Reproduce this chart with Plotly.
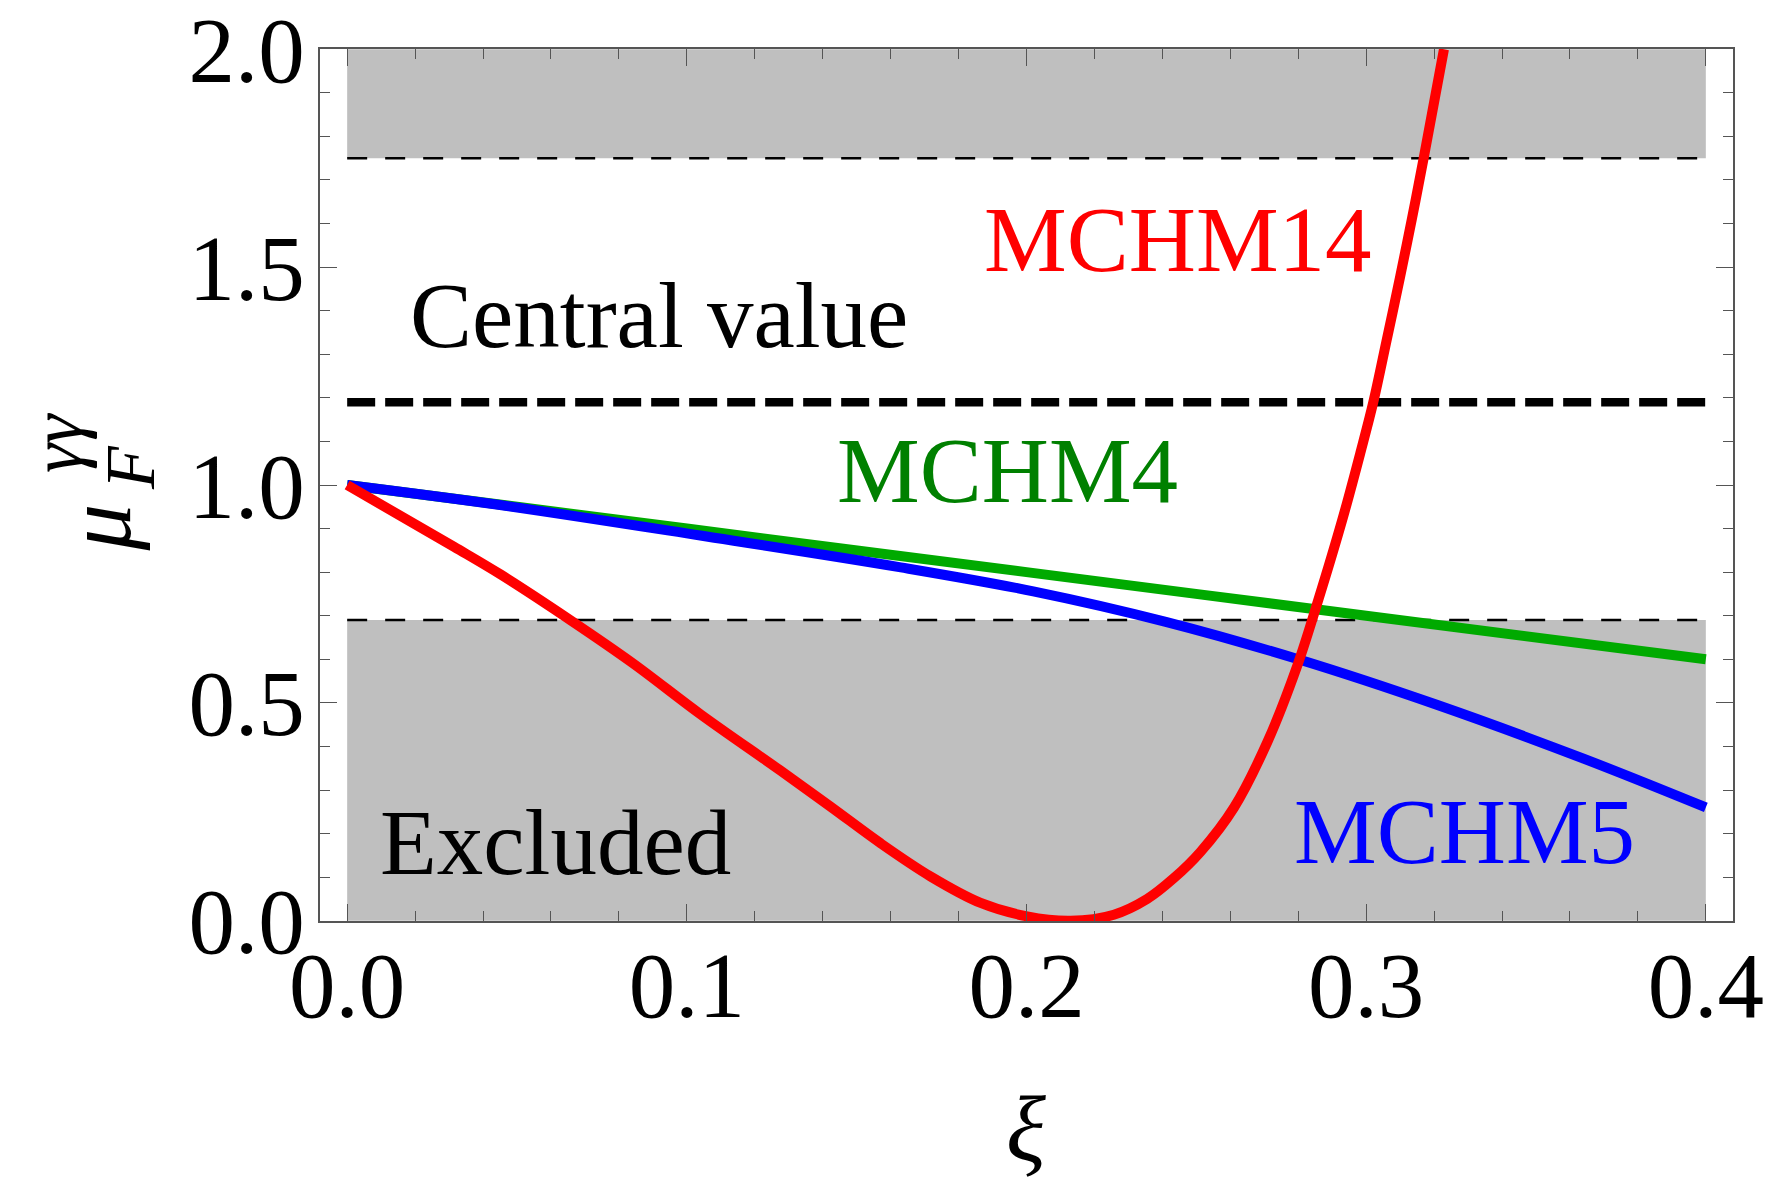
import plotly.graph_objects as go

# ---- data -------------------------------------------------------------
xi_mchm4 = [0.0, 0.1, 0.2, 0.3, 0.4]
mu_mchm4 = [1.0, 0.9, 0.8, 0.7, 0.6]

xi_mchm5 = [0.000, 0.045, 0.104, 0.163, 0.202, 0.241, 0.280, 0.321, 0.364, 0.400]
mu_mchm5 = [1.000, 0.954, 0.884, 0.811, 0.756, 0.686, 0.600, 0.495, 0.372, 0.260]

xi_mchm14 = [0.0000, 0.0315, 0.0451, 0.0657, 0.0841, 0.1040, 0.1275, 0.1423,
             0.1570, 0.1717, 0.1865, 0.2002, 0.2130, 0.2257, 0.2355, 0.2434,
             0.2512, 0.2611, 0.2709, 0.2797, 0.2859, 0.2930, 0.2984, 0.3021,
             0.3060, 0.3100, 0.3135, 0.3170, 0.3229]
mu_mchm14 = [1.000, 0.858, 0.795, 0.690, 0.591, 0.474, 0.345, 0.262,
             0.178, 0.102, 0.041, 0.010, 0.000, 0.014, 0.050, 0.098,
             0.158, 0.260, 0.410, 0.585, 0.736, 0.921, 1.077, 1.190,
             1.331, 1.478, 1.612, 1.753, 2.000]

xi_span = [0.0, 0.4]          # extent of the measured bands
mu_central = 1.19             # central value
mu_low = 0.69                 # lower edge of allowed region
mu_high = 1.75                # upper edge of allowed region
mu_top = 2.0
mu_bottom = 0.0

x_ticks = [0.0, 0.1, 0.2, 0.3, 0.4]
y_ticks = [0.0, 0.5, 1.0, 1.5, 2.0]

# ---- styling ----------------------------------------------------------
FONT = "Liberation Serif"
BAND = "#bfbfbf"
FRAME = "#555555"
LW = 10

W, H = 1779, 1188
ML, MR, MT, MB = 320, 46, 49, 267
PW, PH = W - ML - MR, H - MT - MB


def px(x):
    return (x - ML) / PW


def py(y):
    return (H - MB - y) / PH


fig = go.Figure()

# excluded bands
for lo, hi in [(mu_bottom, mu_low), (mu_high, mu_top)]:
    fig.add_trace(go.Scatter(
        x=[xi_span[0], xi_span[1], xi_span[1], xi_span[0], xi_span[0]],
        y=[lo, lo, hi, hi, lo],
        fill="toself", fillcolor=BAND, mode="lines",
        line=dict(width=0, color=BAND), hoverinfo="skip", showlegend=False))

# band edges
for edge in (mu_low, mu_high):
    fig.add_trace(go.Scatter(
        x=xi_span, y=[edge, edge], mode="lines",
        line=dict(color="black", width=2.5, dash="20px,18px"),
        showlegend=False, hoverinfo="skip"))

# central value
fig.add_trace(go.Scatter(
    x=xi_span, y=[mu_central, mu_central], mode="lines",
    line=dict(color="black", width=8.5, dash="28px,10px"),
    showlegend=False, hoverinfo="skip"))

# model curves
fig.add_trace(go.Scatter(x=xi_mchm4, y=mu_mchm4, mode="lines",
                         line=dict(color="#00aa00", width=LW, shape="spline", smoothing=1.0),
                         showlegend=False))
fig.add_trace(go.Scatter(x=xi_mchm5, y=mu_mchm5, mode="lines",
                         line=dict(color="#0000ff", width=LW, shape="spline", smoothing=1.0),
                         showlegend=False))
fig.add_trace(go.Scatter(x=xi_mchm14, y=mu_mchm14, mode="lines",
                         line=dict(color="#ff0000", width=LW, shape="spline", smoothing=1.0),
                         showlegend=False))

axis_common = dict(
    showgrid=False, zeroline=False, showline=True, linecolor=FRAME, linewidth=1.5,
    mirror="allticks", ticks="inside", ticklen=17, tickwidth=1.3, tickcolor=FRAME,
    tickfont=dict(family=FONT, size=93, color="black"), tickformat=".1f",
    ticklabeloverflow="allow", automargin=False,
)

fig.update_xaxes(range=[-0.008, 0.408], tickvals=x_ticks,
                 minor=dict(dtick=0.02, tick0=0, ticks="inside", ticklen=10,
                            tickwidth=1.3, tickcolor=FRAME),
                 ticklabelstandoff=-17, **axis_common)
fig.update_yaxes(range=[-0.0005, 2.0005], tickvals=y_ticks,
                 minor=dict(dtick=0.1, tick0=0, ticks="inside", ticklen=10,
                            tickwidth=1.3, tickcolor=FRAME),
                 ticklabelstandoff=-5, **axis_common)

labels = [
    ("MCHM14", 0.2445, 1.564, "#ff0000"),
    ("Central value", 0.0919, 1.390, "black"),
    ("MCHM4", 0.1944, 1.034, "#008000"),
    ("MCHM5", 0.329, 0.204, "#0000ff"),
    ("Excluded", 0.0613, 0.180, "black"),
]
for txt, x, y, col in labels:
    fig.add_annotation(text=txt, x=x, y=y, xref="x", yref="y", showarrow=False,
                       xanchor="center", yanchor="middle",
                       font=dict(family=FONT, size=93, color=col))

# axis titles
fig.add_annotation(text="<i>ξ</i>", x=px(1026), y=py(1128), xref="paper", yref="paper",
                   showarrow=False, xanchor="center", yanchor="middle",
                   font=dict(family=FONT, size=93, color="black"))
fig.add_annotation(text="<i>μ</i>", x=px(97.5), y=py(528), xref="paper", yref="paper",
                   showarrow=False, xanchor="center", yanchor="middle", textangle=-90,
                   font=dict(family=FONT, size=93, color="black"))
fig.add_annotation(text="<i>F</i>", x=px(130), y=py(468), xref="paper", yref="paper",
                   showarrow=False, xanchor="center", yanchor="middle", textangle=-90,
                   font=dict(family=FONT, size=70, color="black"))
fig.add_annotation(text="<i>γγ</i>", x=px(56), y=py(443), xref="paper", yref="paper",
                   showarrow=False, xanchor="center", yanchor="middle", textangle=-90,
                   font=dict(family=FONT, size=74, color="black"))

fig.update_layout(
    width=W, height=H,
    margin=dict(l=ML, r=MR, t=MT, b=MB, pad=0, autoexpand=False),
    plot_bgcolor="white", paper_bgcolor="white",
    showlegend=False,
)

fig.write_html("out.html")
